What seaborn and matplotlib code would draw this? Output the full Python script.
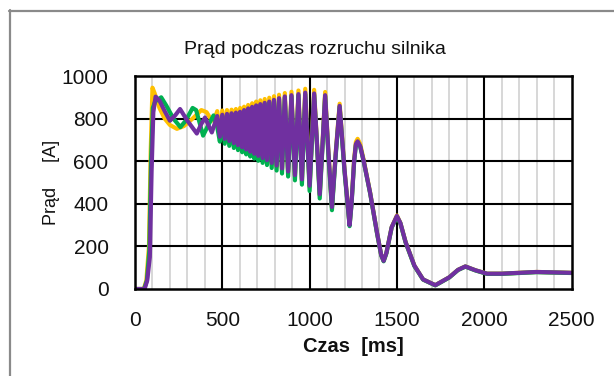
import numpy as np
import pandas as pd
import seaborn as sns
import matplotlib
matplotlib.use("Agg")
import matplotlib.pyplot as plt
from matplotlib.lines import Line2D

# ---------------- data ----------------
# shared time stamps of the dense oscillation (470 .. 1275 ms)
t_osc = [471, 486, 500, 514, 527, 540, 553, 566, 578, 590, 602, 614, 625, 637, 648,
         660, 671, 683, 694, 706, 718, 731, 743, 756, 769, 783, 796, 811, 825, 842,
         858, 877, 896, 916, 936, 956, 975, 1000, 1026, 1042, 1058, 1074, 1089, 1108,
         1128, 1150, 1172, 1200, 1229, 1240, 1255, 1265, 1275]
# shared decay tail (after 1275 ms)
t_tail = [1290, 1310, 1347, 1386, 1410, 1424, 1440, 1470, 1500, 1520, 1550, 1600,
          1650, 1720, 1800, 1850, 1892, 1950, 2016, 2100, 2200, 2300, 2400, 2500]

t_purple_start = [0, 55, 70, 85, 95, 105, 118, 140, 170, 200, 230, 258, 300, 354,
                  380, 401, 420, 440, 456]
i_purple_start = [0, 0, 40, 150, 550, 830, 903, 885, 835, 790, 815, 845, 790, 730,
                  775, 805, 770, 735, 775]
i_purple_osc = [812, 715, 818, 705, 822, 695, 825, 685, 828, 675, 832, 665, 840, 655, 848,
                645, 855, 635, 862, 625, 868, 615, 874, 605, 880, 592, 888, 580, 896, 566,
                904, 552, 910, 535, 915, 515, 922, 485, 918, 690, 445, 680, 910, 640,
                385, 640, 860, 560, 300, 400, 600, 680, 693]
i_purple_tail = [670, 600, 450, 265, 160, 132, 170, 290, 343, 310, 220, 110,
                 45, 18, 55, 90, 106, 88, 72, 72, 76, 80, 78, 76]

t_yellow_start = [0, 50, 65, 80, 90, 100, 112, 140, 170, 200, 240, 280, 330, 380,
                  410, 440, 456]
i_yellow_start = [0, 0, 40, 200, 650, 945, 920, 850, 800, 770, 752, 765, 800, 840,
                  830, 790, 800]
i_yellow_osc = [835, 708, 838, 698, 840, 688, 842, 678, 845, 668, 850, 658, 856, 648, 864,
                638, 872, 628, 880, 618, 886, 608, 892, 598, 898, 586, 905, 574, 912, 560,
                920, 546, 926, 530, 932, 510, 940, 478, 935, 690, 440, 685, 925, 640,
                382, 645, 870, 560, 300, 405, 610, 690, 705]
i_yellow_tail = [680, 605, 452, 265, 160, 132, 170, 290, 345, 310, 220, 110,
                 45, 18, 55, 90, 106, 88, 72, 72, 76, 80, 78, 76]

t_green_start = [0, 52, 68, 82, 92, 102, 115, 150, 180, 220, 260, 290, 330, 350,
                 390, 420, 450]
i_green_start = [0, 0, 40, 180, 600, 850, 880, 900, 860, 800, 760, 790, 850, 840,
                 720, 770, 815]
i_green_osc = [760, 692, 812, 682, 816, 672, 820, 662, 823, 652, 827, 642, 834, 632, 842,
               622, 850, 612, 857, 602, 863, 592, 869, 582, 875, 568, 883, 556, 891, 542,
               899, 528, 905, 510, 910, 490, 915, 460, 912, 680, 425, 670, 905, 620,
               370, 630, 855, 550, 295, 395, 595, 675, 690]
i_green_tail = [668, 598, 448, 262, 158, 130, 168, 288, 340, 308, 218, 108,
                44, 17, 54, 89, 105, 87, 71, 71, 75, 79, 77, 75]

series_names = ["Y", "G", "P"]
series_colors = {"Y": "#FFC000", "G": "#00B050", "P": "#7030A0"}

x_ticks = [0, 500, 1000, 1500, 2000, 2500]
y_ticks = [0, 200, 400, 600, 800, 1000]

title = "Prąd podczas rozruchu silnika"
xlabel = "Czas  [ms]"
ylabel = "Prąd     [A]"

def build(name, t_start, i_start, i_osc, i_tail):
    return pd.DataFrame({"t": list(t_start) + t_osc + t_tail,
                         "I": list(i_start) + list(i_osc) + list(i_tail),
                         "s": name})

df = pd.concat([
    build("Y", t_yellow_start, i_yellow_start, i_yellow_osc, i_yellow_tail),
    build("G", t_green_start, i_green_start, i_green_osc, i_green_tail),
    build("P", t_purple_start, i_purple_start, i_purple_osc, i_purple_tail),
], ignore_index=True)

# ---------------- plot ----------------
sns.set_theme(style="white")
plt.rcParams["font.family"] = ["Liberation Sans", "DejaVu Sans"]

W, H = 614, 376
fig = plt.figure(figsize=(W / 100, H / 100), dpi=100)
ax = fig.add_axes([135 / W, (H - 289) / H, (571.5 - 135) / W, (289 - 76) / H])

# grid
for xm in range(100, 2500, 100):
    if xm % 500:
        ax.axvline(xm, color="#d4d4d4", lw=1.3, zorder=0)
for xm in [500, 1000, 1500, 2000]:
    ax.axvline(xm, color="black", lw=1.5, zorder=0.5)
for ym in [200, 400, 600, 800]:
    ax.axhline(ym, color="black", lw=1.5, zorder=0.5)

sns.lineplot(data=df, x="t", y="I", hue="s", hue_order=series_names,
             palette=series_colors, estimator=None, sort=False, lw=3.0,
             legend=False, ax=ax, zorder=2)

ax.set_xlim(0, 2500)
ax.set_ylim(0, 1000)
ax.set_xticks(x_ticks)
ax.set_yticks(y_ticks)
ax.tick_params(axis="both", length=0, labelsize=15, colors="#111111")
ax.tick_params(axis="x", pad=16)
ax.tick_params(axis="y", pad=19)
ax.set_xlabel("")
ax.set_ylabel("")
for sp in ax.spines.values():
    sp.set_visible(True)
    sp.set_color("black")
    sp.set_linewidth(1.8)

fig.text(315 / W, 1 - 50 / H, title, ha="center", va="center", fontsize=14,
         color="#111111")
fig.text(353 / W, 1 - 347 / H, xlabel, ha="center", va="center", fontsize=14.5,
         fontweight="bold", color="#111111")
fig.text(51 / W, 1 - 182 / H, ylabel, ha="center", va="center", fontsize=13,
         rotation=90, color="#111111")

# outer frame
fig.add_artist(Line2D([9.5 / W, 9.5 / W], [0, 1 - 10 / H], transform=fig.transFigure,
                      color="#8a8a8a", lw=1.6))
fig.add_artist(Line2D([9 / W, 1], [1 - 10.5 / H, 1 - 10.5 / H], transform=fig.transFigure,
                      color="#8a8a8a", lw=1.6))

fig.savefig("out.png", dpi=100)
